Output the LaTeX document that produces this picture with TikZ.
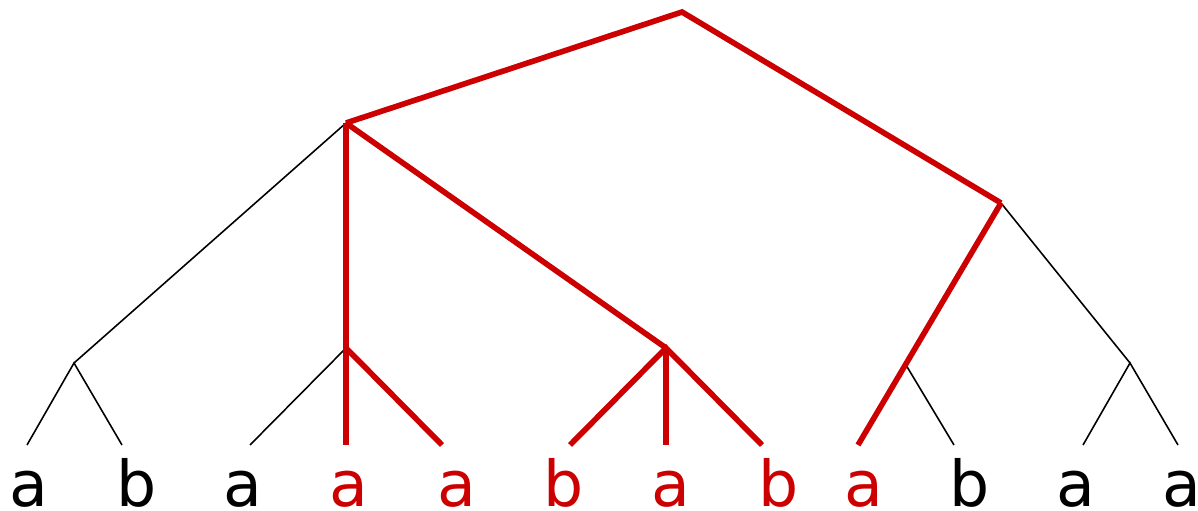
\documentclass[tikz,border=0pt]{standalone}
\usepackage{fontspec}
\setmainfont{DejaVu Sans}
\definecolor{treered}{HTML}{CC0000}
\begin{document}
\begin{tikzpicture}[
    hl/.style={treered, line width=1.6pt},
    plain/.style={black, line width=0.45pt},
    leaf/.style={anchor=base, inner sep=0pt, font=\fontsize{18}{20}\selectfont}
  ]
    \useasboundingbox (0,0) rectangle (11.98,5.11);

    % Inner nodes
    \coordinate (root) at (6.82,4.99);
    \coordinate (l)    at (3.46,3.88);
    \coordinate (r)    at (10.01,3.08);
    \coordinate (ll)   at (0.74,1.48);
    \coordinate (lm)   at (3.46,1.63);
    \coordinate (lr)   at (6.66,1.63);
    \coordinate (rl)   at (9.06,1.46);
    \coordinate (rr)   at (11.30,1.48);

    % Leaves
    \foreach \x [count=\i] in {0.27,1.22,2.50,3.46,4.42,5.70,6.66,7.62,8.58,9.54,10.83,11.78}
        \coordinate (e\i) at (\x,0.66);

    % Black branches
    \draw[plain] (l) -- (ll);
    \draw[plain] (e1) -- (ll) -- (e2);
    \draw[plain] (lm) -- (e3);
    \draw[plain] (rl) -- (e10);
    \draw[plain] (r) -- (rr);
    \draw[plain] (e11) -- (rr) -- (e12);

    % Red branches
    \draw[hl] (l) -- (root) -- (r);
    \draw[hl] (l) -- (e4);
    \draw[hl] (lm) -- (e5);
    \draw[hl] (l) -- (lr);
    \draw[hl] (e6) -- (lr) -- (e8);
    \draw[hl] (lr) -- (e7);
    \draw[hl] (r) -- (e9);

    % Labels
    \foreach \x/\t/\c [count=\i] in {0.29/a/black,1.37/b/black,2.43/a/black,3.49/a/treered,
        4.57/a/treered,5.64/b/treered,6.71/a/treered,7.79/b/treered,8.64/a/treered,
        9.70/b/black,10.76/a/black,11.82/a/black}
        \node[leaf, text=\c] (t\i) at (\x,0.04) {\t};
\end{tikzpicture}
\end{document}
